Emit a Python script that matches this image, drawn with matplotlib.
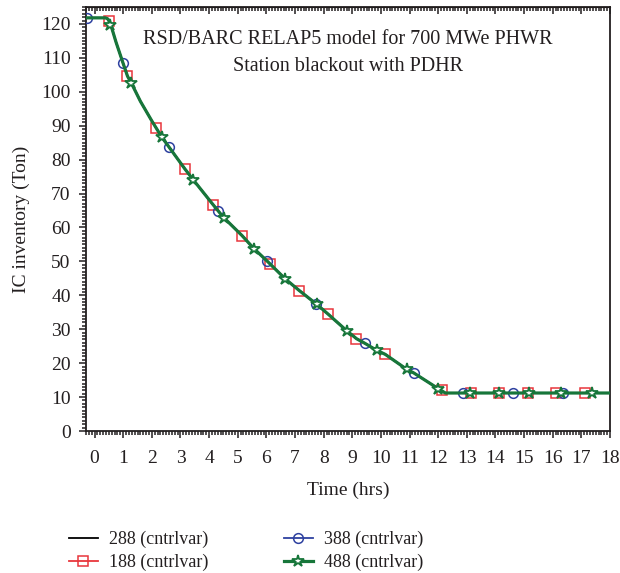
import matplotlib
matplotlib.use("Agg")
import matplotlib.pyplot as plt
from matplotlib.ticker import MultipleLocator
from matplotlib.legend_handler import HandlerTuple

# ---------------------------------
# data
# ---------------------------------

# common IC inventory curve (time in hrs, inventory in ton)
t_curve = [-0.3, 0.0, 0.38, 0.46, 0.52, 0.6, 0.75, 1.0, 1.15, 1.3, 1.6, 2.0,
           2.35, 2.6, 3.15, 3.45, 4.15, 4.5, 5.15, 5.55, 6.05, 6.65, 7.15,
           7.75, 8.15, 8.8, 9.15, 9.45, 9.85, 10.15, 10.9, 11.15, 12.0,
           12.25, 18.0]
ic_curve = [121.8, 121.8, 121.8, 121.5, 120.6, 118.8, 114.6, 108.3, 104.6,
            102.3, 97.2, 91.4, 86.6, 83.7, 77.3, 74.0, 66.6, 63.0, 57.6,
            53.9, 49.9, 44.9, 41.4, 37.4, 34.5, 29.6, 27.2, 25.8, 23.8,
            22.6, 18.2, 17.1, 12.5, 11.2, 11.2]

# marker samples for each control variable
t_188 = [0.49, 1.14, 2.16, 3.15, 4.15, 5.15, 6.14, 7.14, 8.14, 9.13, 10.14,
         12.12, 13.13, 14.13, 15.13, 16.1, 17.13]
v_188 = [121.0, 104.7, 89.4, 77.3, 66.6, 57.6, 49.1, 41.4, 34.5, 27.2, 22.6,
         12.0, 11.2, 11.2, 11.2, 11.2, 11.2]

t_388 = [-0.25, 0.99, 2.59, 4.31, 6.03, 7.73, 9.45, 11.17, 12.88, 14.6, 16.35]
v_388 = [121.8, 108.5, 83.8, 65.0, 50.0, 37.5, 25.8, 17.0, 11.2, 11.2, 11.2]

t_488 = [0.55, 1.28, 2.35, 3.44, 4.51, 5.57, 6.64, 7.75, 8.8, 9.87, 10.92,
         12.0, 13.11, 14.13, 15.18, 16.3, 17.37]
v_488 = [119.6, 102.6, 86.6, 74.1, 62.9, 53.8, 44.9, 37.4, 29.6, 23.8, 18.2,
         12.5, 11.2, 11.2, 11.2, 11.2, 11.2]

x_ticks = list(range(0, 19))
y_ticks = list(range(0, 121, 10))

# ---------------------------------
# plot
# ---------------------------------

plt.rcParams["font.family"] = ["Liberation Serif", "DejaVu Serif"]
plt.rcParams["font.size"] = 13
text_col = "#231f20"

fig = plt.figure(figsize=(6.2, 5.73), dpi=100)
ax = fig.add_axes([86 / 620, 1 - 431 / 573, 524 / 620, 424 / 573])

red = "#e8363c"
blue = "#2e41a0"
green = "#17763a"

l288, = ax.plot(t_curve, ic_curve, color="black", lw=1.3, zorder=2)
l188, = ax.plot(t_curve, ic_curve, color=red, lw=1.3, zorder=2)
m188, = ax.plot(t_188, v_188, ls="none", marker="s", ms=7, mfc="none",
                mec=red, mew=1.1, zorder=3)
l388, = ax.plot(t_curve, ic_curve, color=blue, lw=1.3, zorder=3)
m388, = ax.plot(t_388, v_388, ls="none", marker="o", ms=7, mfc="none",
                mec=blue, mew=1.1, zorder=3)
l488, = ax.plot(t_curve, ic_curve, color=green, lw=2.3, zorder=4)
m488, = ax.plot(t_488, v_488, ls="none", marker="*", ms=9, mfc="white",
                mec=green, mew=1.3, zorder=5)

ax.set_xlim(-0.3, 18)
ax.set_ylim(0, 125)
ax.set_xticks(x_ticks)
ax.set_yticks(y_ticks)
ax.xaxis.set_minor_locator(MultipleLocator(0.1))
ax.yaxis.set_minor_locator(MultipleLocator(1))
ax.tick_params(which="both", direction="out", colors=text_col, width=1.1,
               labelsize=14, right=False, top=False)
ax.tick_params(which="major", length=5)
ax.tick_params(axis="x", which="major", pad=9)
ax.tick_params(axis="y", which="major", pad=6)
ax.tick_params(which="minor", length=3)
for s in ax.spines.values():
    s.set_linewidth(1.3)
    s.set_color(text_col)

# top axis ticks point inward, no labels
top = ax.secondary_xaxis("top")
top.set_xticks(x_ticks)
top.xaxis.set_minor_locator(MultipleLocator(0.1))
top.tick_params(which="both", direction="in", labeltop=False, width=1.1,
                colors=text_col)
top.tick_params(which="major", length=5)
top.tick_params(which="minor", length=3)

ax.set_xlabel("Time (hrs)", fontsize=14, color=text_col, labelpad=10)
ax.set_ylabel("IC inventory (Ton)", fontsize=14, color=text_col, labelpad=8)

ax.text(0.5, 0.923, "RSD/BARC RELAP5 model for 700 MWe PHWR", transform=ax.transAxes,
        ha="center", va="center", fontsize=14.5, color=text_col)
ax.text(0.5, 0.859, "Station blackout with PDHR", transform=ax.transAxes,
        ha="center", va="center", fontsize=14.5, color=text_col)

leg = fig.legend([l288, (l188, m188), (l388, m388), (l488, m488)],
                 ["288 (cntrlvar)", "188 (cntrlvar)", "388 (cntrlvar)", "488 (cntrlvar)"],
                 handler_map={tuple: HandlerTuple(ndivide=1, pad=0)},
                 ncol=2, frameon=False, loc="upper left",
                 bbox_to_anchor=(69 / 620, 1 - 531 / 573), borderaxespad=0,
                 borderpad=0, handlelength=1.6, handletextpad=0.6,
                 columnspacing=4.2, labelspacing=0.3, fontsize=13)
for t in leg.get_texts():
    t.set_color(text_col)

fig.savefig("out.png", dpi=100)
